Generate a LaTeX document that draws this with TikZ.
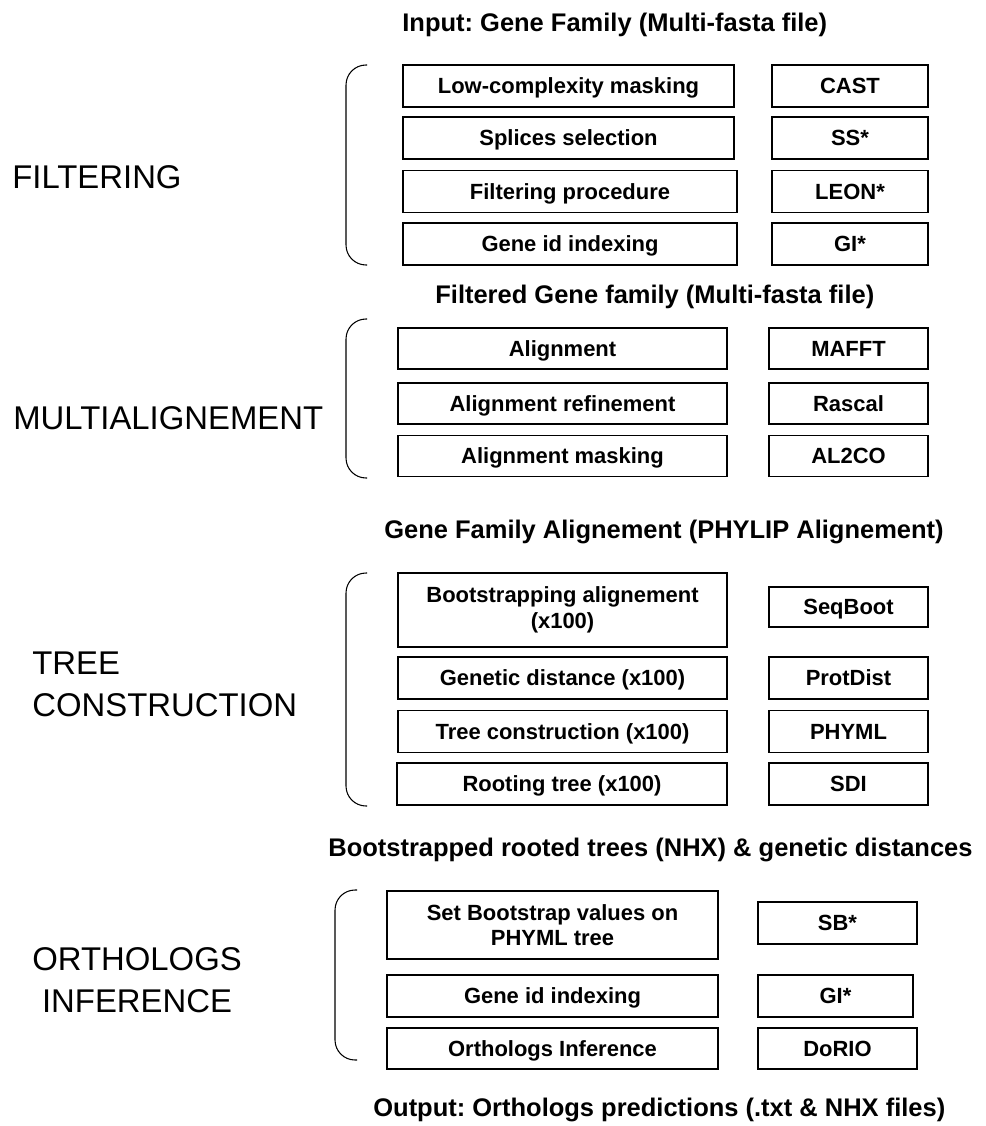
\documentclass[tikz,border=0pt]{standalone}
\usepackage{fontspec}
\setmainfont{Liberation Sans}
\frenchspacing

\begin{document}
\begin{tikzpicture}[
    x=0.2mm, y=-0.2mm,
    stepbox/.style={draw, line width=0.8pt, inner sep=0pt,
      minimum width=66.2mm, minimum height=8.4mm, text height=9pt, text depth=0pt,
      font=\fontsize{12.5}{14.5}\selectfont\bfseries},
    twoline/.style={align=center, text height={}, text depth={}},
    toolbox/.style={stepbox, minimum width=31.2mm},
    title/.style={anchor=west, inner sep=0pt, font=\fontsize{14.5}{17}\selectfont\bfseries},
    phase/.style={anchor=west, inner sep=0pt, align=left, font=\fontsize{18.7}{23.9}\selectfont},
    bracket/.style={line width=0.6pt, rounded corners=4mm}
  ]
  \useasboundingbox (0,0) rectangle (986,1126);

  % filtering
  \node[title] (input) at (402,25) {Input: Gene Family (Multi-fasta file)};
  \node[stepbox] (lowcomp) at (568.5,86) {Low-complexity masking};
  \node[toolbox] (cast) at (850,86) {CAST};
  \node[stepbox] (splices) at (568.5,138) {Splices selection};
  \node[toolbox] (ss) at (850,138) {SS*};
  \node[stepbox, minimum width=66.8mm] (filtproc) at (570,191.5) {Filtering procedure};
  \node[toolbox] (leon) at (850,191.5) {LEON*};
  \node[stepbox, minimum width=66.8mm] (geneid) at (570,244) {Gene id indexing};
  \node[toolbox] (gi) at (850,244) {GI*};
  \node[phase] (filtering) at (12,177) {FILTERING};
  \draw[bracket] (367,65) -- (346,65) -- (346,265) -- (367,265);

  % multialignement
  \node[title] (filtered) at (435,297) {Filtered Gene family (Multi-fasta file)};
  \node[stepbox, minimum width=65.8mm, minimum height=8.2mm] (align) at (562.5,348.5) {Alignment};
  \node[toolbox, minimum width=31.8mm, minimum height=8.2mm] (mafft) at (848.5,348.5) {MAFFT};
  \node[stepbox, minimum width=65.8mm, minimum height=8.2mm] (refine) at (562.5,403.5) {Alignment refinement};
  \node[toolbox, minimum width=31.8mm, minimum height=8.2mm] (rascal) at (848.5,403.5) {Rascal};
  \node[stepbox, minimum width=65.8mm, minimum height=8.2mm] (masking) at (562.5,456) {Alignment masking};
  \node[toolbox, minimum width=31.8mm, minimum height=8.2mm] (al2co) at (848.5,456) {AL2CO};
  \node[phase] (multi) at (13,418) {MULTIALIGNEMENT};
  \draw[bracket] (367,319) -- (346,319) -- (346,478) -- (367,478);

  % tree construction
  \node[title] (phylip) at (384,532) {Gene Family Alignement (PHYLIP Alignement)};
  \node[stepbox, twoline, minimum width=65.8mm, minimum height=14.8mm] (bootaln) at (562.5,610) {Bootstrapping alignement\\(x100)};
  \node[toolbox, minimum width=31.8mm, minimum height=8mm] (seqboot) at (848.5,607) {SeqBoot};
  \node[stepbox, minimum width=65.8mm] (gendist) at (562.5,678) {Genetic distance (x100)};
  \node[toolbox, minimum width=31.8mm] (protdist) at (848.5,678) {ProtDist};
  \node[stepbox, minimum width=65.8mm] (treecons) at (562.5,731.5) {Tree construction (x100)};
  \node[toolbox, minimum width=31.8mm] (phyml) at (848.5,731.5) {PHYML};
  \node[stepbox, minimum width=66mm] (rooting) at (562,784) {Rooting tree (x100)};
  \node[toolbox, minimum width=31.8mm] (sdi) at (848.5,784) {SDI};
  \node[phase] (treephase) at (32,684) {TREE\\CONSTRUCTION};
  \draw[bracket] (367,573) -- (346,573) -- (346,806) -- (367,806);

  % orthologs inference
  \node[title] (boottrees) at (328,850) {Bootstrapped rooted trees (NHX) \& genetic distances};
  \node[stepbox, twoline, minimum height=13.6mm] (setboot) at (552.5,925) {Set Bootstrap values on\\PHYML tree};
  \node[toolbox, minimum width=31.8mm] (sb) at (837.5,923) {SB*};
  \node[stepbox] (geneid2) at (552.5,996) {Gene id indexing};
  \node[toolbox, minimum width=31mm] (gi2) at (835.5,996) {GI*};
  \node[stepbox, minimum height=8.2mm] (orthinf) at (552.5,1048.5) {Orthologs Inference};
  \node[toolbox, minimum width=31.8mm, minimum height=8.2mm] (dorio) at (837.5,1048.5) {DoRIO};
  \node[phase, align=center] (orthphase) at (32,980) {ORTHOLOGS\\INFERENCE};
  \draw[bracket] (357,890) -- (335,890) -- (335,1060) -- (357,1060);

  \node[title] (output) at (373,1110) {Output: Orthologs predictions (.txt \& NHX files)};
\end{tikzpicture}
\end{document}
